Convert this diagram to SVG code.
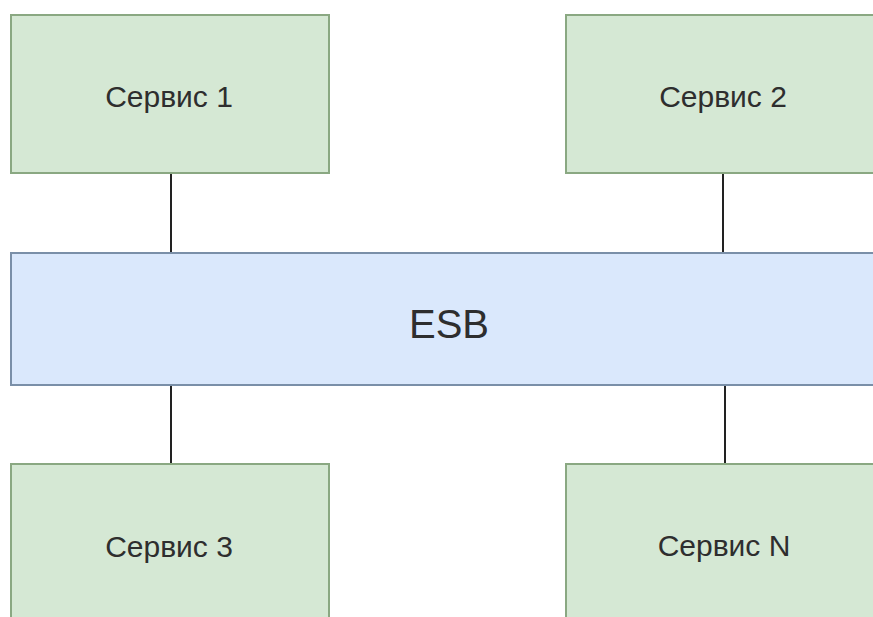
<svg xmlns="http://www.w3.org/2000/svg" width="873" height="617" viewBox="0 0 873 617">
  <style>
    .svc { fill: #d5e8d4; stroke: #8aa882; stroke-width: 2; }
    .bus { fill: #dae8fc; stroke: #7a8fa8; stroke-width: 2; }
    .lbl { font-family: "Liberation Sans", Arial, sans-serif; fill: #2e2e2e; text-anchor: middle; }
    .svc-lbl { font-size: 30px; }
    .bus-lbl { font-size: 40px; }
    .link { stroke: #222; stroke-width: 2; fill: none; }
  </style>
  <rect width="873" height="617" fill="#ffffff"/>

  <!-- connectors between services and the bus -->
  <g id="connectors">
    <line class="link" x1="171" y1="173" x2="171" y2="253"/>
    <line class="link" x1="723" y1="173" x2="723" y2="253" stroke="#555"/>
    <line class="link" x1="171" y1="385" x2="171" y2="464"/>
    <line class="link" x1="725" y1="385" x2="725" y2="464"/>
  </g>

  <g id="esb">
    <rect class="bus" x="11" y="253" width="880" height="132"/>
    <text class="lbl bus-lbl" x="449" y="338">ESB</text>
  </g>

  <g id="service1">
    <rect class="svc" x="11" y="15" width="318" height="158"/>
    <text class="lbl svc-lbl" x="169" y="107">Сервис 1</text>
  </g>

  <g id="service2">
    <rect class="svc" x="566" y="15" width="330" height="158"/>
    <text class="lbl svc-lbl" x="723" y="107">Сервис 2</text>
  </g>

  <g id="service3">
    <rect class="svc" x="11" y="464" width="318" height="170"/>
    <text class="lbl svc-lbl" x="169" y="557">Сервис 3</text>
  </g>

  <g id="serviceN">
    <rect class="svc" x="566" y="464" width="330" height="170"/>
    <text class="lbl svc-lbl" x="724" y="556">Сервис N</text>
  </g>
</svg>
